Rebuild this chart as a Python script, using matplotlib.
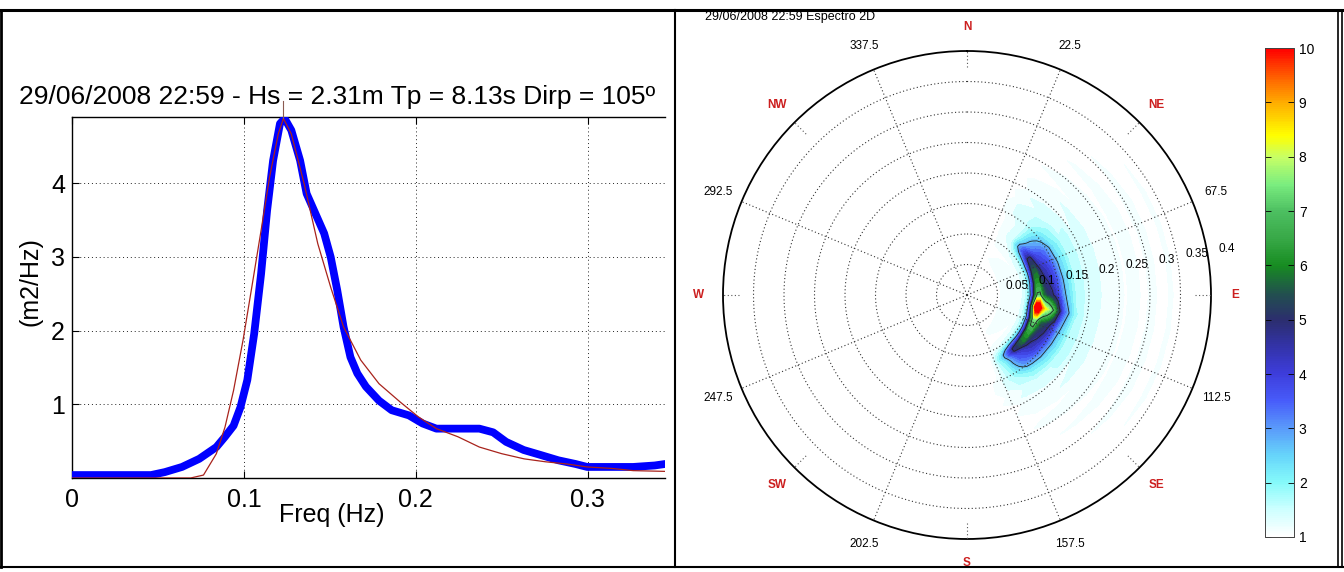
import numpy as np
import matplotlib
matplotlib.use("Agg")
import matplotlib.pyplot as plt
from matplotlib.colors import LinearSegmentedColormap, Normalize
from matplotlib.cm import ScalarMappable
from matplotlib.lines import Line2D

plt.rcParams['font.family'] = ['Liberation Sans', 'DejaVu Sans']

# ---------------- 1-D spectrum ----------------
freq_meas = [0.0, 0.02, 0.046, 0.054, 0.064, 0.074, 0.084, 0.089, 0.094, 0.098,
             0.102, 0.106, 0.110, 0.1135, 0.117, 0.121, 0.1237, 0.1276, 0.1327,
             0.1365, 0.1416, 0.1467, 0.1505, 0.1543, 0.158, 0.162, 0.166, 0.171,
             0.1786, 0.186, 0.196, 0.204, 0.212, 0.2245, 0.237, 0.245, 0.2526,
             0.2628, 0.273, 0.283, 0.293, 0.2997, 0.3138, 0.3265, 0.339, 0.345]
spec_meas = [0.04, 0.04, 0.04, 0.08, 0.15, 0.26, 0.42, 0.56, 0.71, 0.96,
             1.33, 1.96, 2.77, 3.63, 4.31, 4.81, 4.88, 4.72, 4.31,
             3.86, 3.59, 3.32, 3.00, 2.55, 2.05, 1.64, 1.42, 1.24,
             1.05, 0.92, 0.85, 0.74, 0.67, 0.67, 0.67, 0.62, 0.49,
             0.38, 0.31, 0.24, 0.19, 0.15, 0.15, 0.15, 0.17, 0.19]

freq_fit = [0.0, 0.069, 0.0765, 0.084, 0.089, 0.094, 0.0995, 0.1046, 0.110, 0.115,
            0.120, 0.123, 0.1276, 0.135, 0.143, 0.1505, 0.158, 0.168, 0.1786,
            0.191, 0.2015, 0.212, 0.2245, 0.237, 0.250, 0.263, 0.2755, 0.288,
            0.2997, 0.314, 0.3265, 0.345]
spec_fit = [0.0, 0.0, 0.04, 0.33, 0.69, 1.19, 1.87, 2.59, 3.36, 4.09,
            4.67, 4.88, 4.67, 4.00, 3.18, 2.59, 2.05, 1.60, 1.28,
            1.03, 0.83, 0.67, 0.56, 0.42, 0.33, 0.26, 0.22, 0.19,
            0.15, 0.13, 0.10, 0.09]

peak_freq = 1 / 8.13
title_left = "29/06/2008 22:59 - Hs = 2.31m Tp = 8.13s Dirp = 105º"
xtick_vals = [0, 0.1, 0.2, 0.3]
xtick_text = ["0", "0.1", "0.2", "0.3"]
ytick_vals = [1, 2, 3, 4]

# ---------------- 2-D directional spectrum ----------------
title_right = "29/06/2008 22:59 Espectro 2D"
dir_deg = np.arange(0, 361, 10)
ring_freq = [0.0, 0.03, 0.05, 0.07, 0.085, 0.095, 0.10, 0.105, 0.11, 0.115,
             0.12, 0.125, 0.13, 0.135, 0.14, 0.145, 0.15, 0.155, 0.16, 0.17,
             0.18, 0.19, 0.20, 0.215, 0.23, 0.245, 0.26, 0.275, 0.29, 0.305,
             0.32, 0.335, 0.35, 0.40]
core_energy = [0, 0, 0, 0, 0, 0.2, 0.8, 2.8, 6.4, 9.9,
               10.0, 8.0, 7.0, 6.6, 6.0, 5.2, 4.2, 3.0, 2.0, 1.0,
               0.4, 0.15, 0, 0, 0, 0, 0, 0, 0, 0,
               0, 0, 0, 0]
wash_energy = [0, 0.5, 0.9, 1.25, 1.0, 1.3, 1.3, 1.35, 1.35, 1.4,
               1.4, 1.4, 1.4, 1.4, 1.4, 1.45, 1.5, 1.6, 1.6, 1.6,
               1.4, 1.5, 1.25, 1.35, 1.05, 1.25, 0.95, 1.15, 0.9, 1.1,
               0.85, 1.05, 0.8, 0]
# directional weights, one per entry of dir_deg (0..360 every 10 deg)
core_spread = [0, 0, 0, 0, 0.02, 0.2, 0.34, 0.42, 0.48, 0.56,
               1.0, 0.60, 0.50, 0.44, 0.34, 0.12, 0, 0, 0, 0,
               0, 0, 0, 0, 0, 0, 0, 0, 0, 0,
               0, 0, 0, 0, 0, 0, 0]
wash_spread = [0, 0.2, 0.55, 0.8, 0.9, 0.95, 1, 1, 1, 1,
               1, 1, 1, 0.95, 0.9, 0.85, 0.7, 0.5, 0.25, 0.05,
               0, 0, 0, 0, 0, 0, 0, 0, 0, 0,
               0, 0, 0, 0, 0, 0, 0]

ring_vals = [0.05, 0.10, 0.15, 0.20, 0.25, 0.30, 0.35]
ring_text = ["0.05", "0.1", "0.15", "0.2", "0.25", "0.3", "0.35", "0.4"]
spoke_deg = [22.5, 67.5, 112.5, 157.5, 202.5, 247.5, 292.5, 337.5]
spoke_text = ["22.5", "67.5", "112.5", "157.5", "202.5", "247.5", "292.5", "337.5"]
compass_deg = [0, 45, 90, 135, 180, 225, 270, 315]
compass_text = ["N", "NE", "E", "SE", "S", "SW", "W", "NW"]

cbar_levels = [1, 2, 3, 4, 5, 6, 7, 8, 9, 10]
cmap_anchor = [
    (1.0, (1.00, 1.00, 1.00)), (1.5, (0.80, 1.00, 1.00)), (2.0, (0.52, 0.98, 0.98)),
    (2.5, (0.40, 0.83, 0.98)), (3.0, (0.35, 0.60, 0.98)), (3.5, (0.28, 0.36, 0.98)),
    (4.0, (0.24, 0.24, 0.86)), (4.5, (0.20, 0.20, 0.66)), (5.0, (0.17, 0.18, 0.43)),
    (5.5, (0.13, 0.32, 0.30)), (6.0, (0.09, 0.55, 0.13)), (6.5, (0.22, 0.66, 0.28)),
    (7.0, (0.30, 0.75, 0.38)), (7.5, (0.48, 0.93, 0.50)), (8.0, (0.78, 1.00, 0.40)),
    (8.4, (1.00, 1.00, 0.00)), (9.0, (1.00, 0.68, 0.00)), (9.5, (1.00, 0.36, 0.00)),
    (10.0, (1.00, 0.00, 0.00)),
]

W, H = 1344, 572
fig = plt.figure(figsize=(W / 100, H / 100), dpi=100)
fig.patch.set_facecolor('white')


def fx(px):
    return px / W


def fy(py):
    return 1 - py / H


# ---------------- left panel ----------------
ax1 = fig.add_axes([fx(72), fy(478), fx(665 - 72), (478 - 117) / H])
ax1.plot(freq_meas, spec_meas, color='#0000ff', lw=5.6, solid_capstyle='round',
         solid_joinstyle='round', zorder=3)
ax1.plot(freq_fit, spec_fit, color='#a8231c', lw=0.9, zorder=4)
ax1.plot([peak_freq, peak_freq], [4.88, 5.12], color='#8a5a50', lw=0.8,
         clip_on=False, zorder=4)
ax1.set_xlim(0, 0.345)
ax1.set_ylim(0, 4.9)
ax1.set_xticks(xtick_vals)
ax1.set_xticklabels(xtick_text)
ax1.set_yticks(ytick_vals)
ax1.grid(True, color='#222222', linestyle=(0, (1, 3)), linewidth=0.7)
ax1.spines['right'].set_visible(False)
for s in ['left', 'bottom', 'top']:
    ax1.spines[s].set_linewidth(1.0)
ax1.tick_params(direction='in', length=5, top=True, labelsize=18, width=0.8)
ax1.tick_params(axis='x', pad=7)
ax1.tick_params(axis='y', pad=5)
fig.text(fx(337), fy(97), title_left, ha='center', va='center', fontsize=19)
fig.text(fx(332), fy(515), "Freq (Hz)", ha='center', va='center', fontsize=18)
fig.text(fx(30), fy(282), "(m2/Hz)", ha='center', va='center', fontsize=18,
         rotation=90)

# ---------------- right panel: polar spectrum ----------------
cmap = LinearSegmentedColormap.from_list(
    'espectro', [((v - 1) / 9, c) for v, c in cmap_anchor])
norm = Normalize(1, 10)

ax2 = fig.add_axes([fx(723), fy(539), fx(488), 488 / H], projection='polar')
ax2.set_theta_zero_location('N')
ax2.set_theta_direction(-1)
ax2.set_ylim(0, 0.4)
ax2.grid(False)
ax2.set_xticks([])
ax2.set_yticks([])
ax2.spines['polar'].set_linewidth(1.3)

TH, R = np.meshgrid(np.deg2rad(dir_deg), ring_freq, indexing='ij')
Z = (np.outer(core_spread, core_energy) + np.outer(wash_spread, wash_energy))
fill_levels = np.linspace(1, 10, 37)
ax2.contourf(TH, R, Z, levels=fill_levels, cmap=cmap, norm=norm, extend='max',
             zorder=1)
ax2.contour(TH, R, Z, levels=[2.6, 4.6, 6.8], colors='#222222', linewidths=0.6,
            zorder=2)

dot = (0, (1, 2.2))
circ = np.linspace(0, 2 * np.pi, 361)
for rv in ring_vals:
    ax2.plot(circ, np.full_like(circ, rv), color='#333333', lw=0.8,
             linestyle=dot, zorder=3)
for d in spoke_deg:
    ax2.plot([np.deg2rad(d)] * 2, [0, 0.4], color='#333333', lw=0.8,
             linestyle=dot, zorder=3)
for d in compass_deg:
    ax2.plot([np.deg2rad(d)] * 2, [0.373, 0.4], color='#555555', lw=0.8,
             linestyle=dot, zorder=3)

for rv, txt in zip(ring_vals + [0.4], ring_text):
    ax2.text(np.deg2rad(80), rv + 0.033, txt, ha='center', va='center',
             fontsize=8.5, clip_on=False, zorder=5)
for d, txt in zip(spoke_deg, spoke_text):
    ax2.text(np.deg2rad(d), 0.442, txt, ha='center', va='center',
             fontsize=8.5, clip_on=False)
for d, txt in zip(compass_deg, compass_text):
    ax2.text(np.deg2rad(d), 0.44, txt, ha='center', va='center', fontsize=8.5,
             fontweight='bold', color='#cc1f1f', clip_on=False)

fig.text(fx(705), fy(17), title_right, ha='left', va='center', fontsize=9)

# colour bar
cax = fig.add_axes([fx(1265), fy(537), fx(29), (537 - 48) / H])
cb = fig.colorbar(ScalarMappable(norm=norm, cmap=cmap), cax=cax,
                  ticks=cbar_levels)
cb.outline.set_linewidth(0.7)
cb.outline.set_edgecolor('#444444')
cax.tick_params(labelsize=10, direction='in', length=4, left=True, right=True,
                width=0.6)

# ---------------- frame lines ----------------
def fline(x0, y0, x1, y1, lw):
    fig.add_artist(Line2D([fx(x0), fx(x1)], [fy(y0), fy(y1)], color='k', lw=lw,
                          transform=fig.transFigure))


fline(0, 10, W, 10, 2.2)
fline(1, 10, 1, 567, 2.0)
fline(0, 567, W, 567, 1.5)
fline(675, 10, 675, 567, 1.5)
fline(1338, 10, 1338, 567, 1.2)
fline(1342, 10, 1342, 567, 1.2)

fig.savefig('out.png', dpi=100, facecolor='white')
